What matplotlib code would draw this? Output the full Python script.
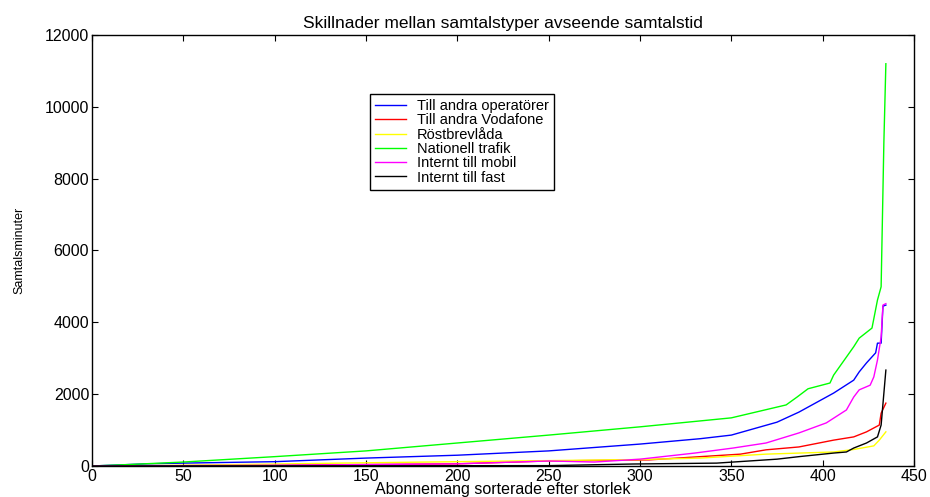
import matplotlib
matplotlib.use("Agg")
import matplotlib.pyplot as plt

## Values (subscribers sorted by size)

x_blue = [0, 30, 50, 100, 150, 200, 250, 300, 333, 350, 375, 387, 406, 417, 420, 424, 429, 430, 432, 433, 434.6]
y_blue = [0, 60, 80, 120, 220, 300, 420, 610, 760, 860, 1220, 1500, 2030, 2390, 2620, 2870, 3150, 3420, 3420, 4450, 4480]

x_red = [0, 100, 200, 250, 305, 333, 355, 369, 387, 406, 417, 424, 431, 432, 434.6]
y_red = [0, 20, 60, 140, 170, 260, 330, 450, 530, 720, 810, 950, 1140, 1470, 1750]

x_yellow = [0, 50, 136, 200, 300, 333, 369, 406, 417, 428, 431, 434.6]
y_yellow = [0, 20, 80, 120, 180, 220, 330, 390, 460, 560, 720, 950]

x_green = [0, 20, 50, 100, 150, 200, 250, 300, 350, 380, 386, 392, 404, 406, 417, 420, 427, 430, 432, 433.5, 434.6]
y_green = [0, 40, 110, 260, 420, 640, 860, 1090, 1340, 1700, 1920, 2150, 2310, 2530, 3320, 3560, 3840, 4620, 4990, 9000, 11200]

x_magenta = [0, 100, 150, 200, 250, 275, 300, 330, 351, 369, 387, 402, 413, 417, 420, 426, 428, 430, 432, 433, 434.6]
y_magenta = [0, 20, 40, 60, 140, 110, 190, 360, 500, 640, 920, 1200, 1560, 1920, 2120, 2250, 2480, 2950, 3590, 4480, 4520]

x_black = [0, 250, 296, 342, 375, 387, 406, 413, 417, 424, 430, 432, 434.6]
y_black = [0, 10, 55, 80, 190, 260, 360, 390, 500, 640, 810, 1140, 2670]

labels = ["Till andra operatörer", "Till andra Vodafone", "Röstbrevlåda",
          "Nationell trafik", "Internt till mobil", "Internt till fast"]

plt.rcParams['font.family'] = ['Liberation Sans', 'DejaVu Sans']

fig = plt.figure(figsize=(9.3, 4.97), dpi=100)
ax = fig.add_axes([0.0989, 0.0624, 0.8839, 0.8672])

series = [(x_blue, y_blue, '#0000ff'),
          (x_red, y_red, '#ff0000'),
          (x_yellow, y_yellow, '#ffff00'),
          (x_green, y_green, '#00ff00'),
          (x_magenta, y_magenta, '#ff00ff'),
          (x_black, y_black, '#000000')]

for (xs, ys, col), lab in zip(series, labels):
    ax.plot(xs, ys, color=col, lw=1, label=lab)

ax.set_xlim(0, 450)
ax.set_ylim(0, 12000)
ax.set_xticks(range(0, 451, 50))
ax.set_yticks(range(0, 12001, 2000))
ax.tick_params(direction='in', top=True, right=True, length=4, width=0.8,
               labelsize=11.5, pad=2)
for s in ax.spines.values():
    s.set_linewidth(1)

ax.set_title("Skillnader mellan samtalstyper avseende samtalstid", fontsize=12.5, pad=5)
ax.set_xlabel("Abonnemang sorterade efter storlek", fontsize=11.5, labelpad=-1)
ax.set_ylabel("Samtalsminuter", fontsize=9, labelpad=14)

leg = ax.legend(loc='upper left', bbox_to_anchor=(0.338, 0.863), fontsize=10.5,
                frameon=True, fancybox=False, edgecolor='black', framealpha=1,
                handlelength=2.1, borderpad=0.35, labelspacing=0.02,
                handletextpad=0.8, borderaxespad=0)
leg.get_frame().set_linewidth(1)

fig.savefig("out.png", dpi=100)
